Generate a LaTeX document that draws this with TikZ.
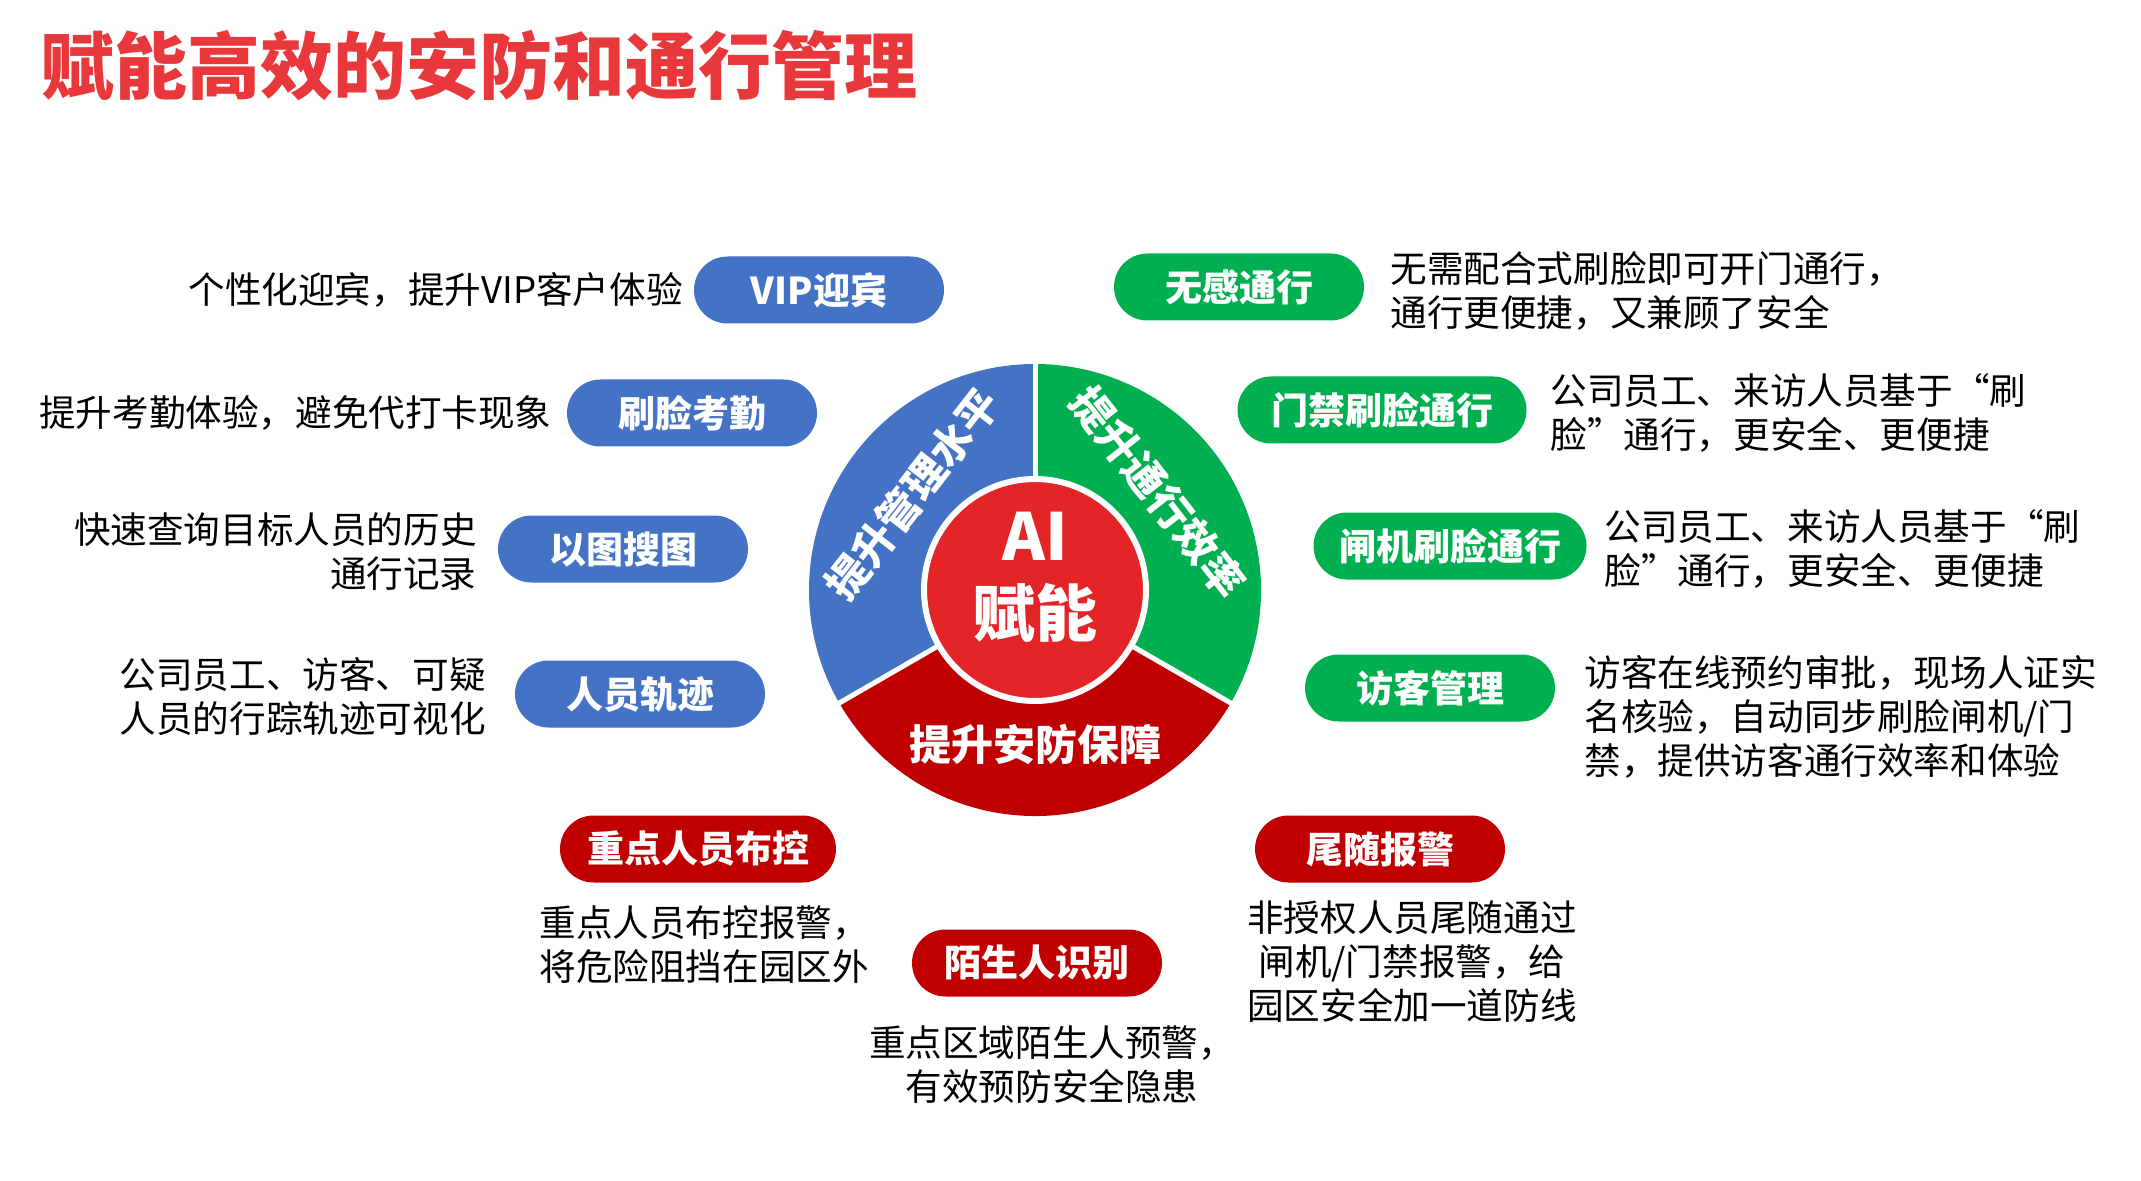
\documentclass[tikz,border=0pt]{standalone}
\usepackage{fontspec}
\setmainfont{Noto Sans CJK SC}
\usepackage{tikz}
\usetikzlibrary{shapes.misc}
\definecolor{secBlue}{HTML}{4472C4}
\definecolor{secGreen}{HTML}{00B050}
\definecolor{secRed}{HTML}{C00000}
\definecolor{secCore}{HTML}{E42528}
\definecolor{secTitle}{HTML}{E8383B}

\begin{document}
\begin{tikzpicture}[x=0.5pt,y=0.5pt,
    pill/.style={rounded rectangle,minimum height=33.5pt,minimum width=125pt,
                 inner sep=0pt,text=white,font=\fontsize{18.5}{22}\selectfont\bfseries},
    bluepill/.style={pill,fill=secBlue},
    greenpill/.style={pill,fill=secGreen},
    redpill/.style={pill,fill=secRed},
    desc/.style={inner sep=0pt,font=\fontsize{18.3}{22}\selectfont},
    ringtext/.style={inner sep=0pt,text=white,font=\fontsize{21}{24}\selectfont\bfseries}]

  \fill[white] (0,0) rectangle (2141,1180);
  \useasboundingbox (0,0) rectangle (2141,1180);

  \node[anchor=west,inner sep=0pt,text=secTitle,font=\fontsize{36.5}{40}\selectfont\bfseries]
    (title) at (41,1114) {赋能高效的安防和通行管理};

  % ring
  \coordinate (hub) at (1035,590);
  \fill[secBlue] (hub) -- ++(90:226) arc[start angle=90,end angle=210,radius=226] -- cycle;
  \fill[secRed] (hub) -- ++(210:226) arc[start angle=210,end angle=330,radius=226] -- cycle;
  \fill[secGreen] (hub) -- ++(330:226) arc[start angle=330,end angle=450,radius=226] -- cycle;
  \foreach \a in {90,210,330}
    \draw[white,line width=2.5pt] (hub) -- ++(\a:230);
  \filldraw[fill=secCore,draw=white,line width=3pt] (hub) circle[radius=111];

  \node[inner sep=0pt,text=white,font=\fontsize{32.5}{36}\selectfont\bfseries] (ai) at (1035,644) {AI};
  \node[inner sep=0pt,text=white,font=\fontsize{31}{36}\selectfont\bfseries] (fuNeng) at (1035,567) {赋能};

  \node[ringtext,rotate=52] (lvMgmt) at (912,686) {提升管理水平};
  \node[ringtext,rotate=-52] (lvPass) at (1158,688) {提升通行效率};
  \node[ringtext] (lvSafe) at (1035,436) {提升安防保障};

  % left
  \node[bluepill] (vip) at (819,890) {VIP迎宾};
  \node[bluepill] (kaoqin) at (692,767) {刷脸考勤};
  \node[bluepill] (soutu) at (623,631) {以图搜图};
  \node[bluepill] (guiji) at (640,486) {人员轨迹};

  \node[desc,anchor=east] (vipTxt) at (683,890) {个性化迎宾，提升VIP客户体验};
  \node[desc,anchor=east] (kaoqinTxt) at (552,767) {提升考勤体验，避免代打卡现象};
  \node[desc,anchor=east,align=right] (soutuTxt) at (477,628) {快速查询目标人员的历史\\通行记录};
  \node[desc,anchor=east,align=right] (guijiTxt) at (486,484) {公司员工、访客、可疑\\人员的行踪轨迹可视化};

  % right
  \node[greenpill] (wugan) at (1239,893) {无感通行};
  \node[greenpill,minimum width=144.5pt] (menjin) at (1382,770) {门禁刷脸通行};
  \node[greenpill,minimum width=136.5pt] (zhaji) at (1450,634) {闸机刷脸通行};
  \node[greenpill] (fangke) at (1430,492) {访客管理};

  \node[desc,anchor=west,align=left] (wuganTxt) at (1390,889) {无需配合式刷脸即可开门通行，\\通行更便捷，又兼顾了安全};
  \node[desc,anchor=west,align=left] (menjinTxt) at (1550,767) {公司员工、来访人员基于“刷\\脸”通行，更安全、更便捷};
  \node[desc,anchor=west,align=left] (zhajiTxt) at (1604,631) {公司员工、来访人员基于“刷\\脸”通行，更安全、更便捷};
  \node[desc,anchor=west,align=left] (fangkeTxt) at (1584,463) {访客在线预约审批，现场人证实\\名核验，自动同步刷脸闸机/门\\禁，提供访客通行效率和体验};

  % bottom
  \node[redpill,minimum width=138pt] (bukong) at (698,331) {重点人员布控};
  \node[redpill] (moSheng) at (1037,217) {陌生人识别};
  \node[redpill] (weisui) at (1380,331) {尾随报警};

  \node[desc,anchor=west,align=left] (bukongTxt) at (539,235) {重点人员布控报警，\\将危险阻挡在园区外};
  \node[desc,align=center] (moShengTxt) at (1052,115) {重点区域陌生人预警，\\有效预防安全隐患};
  \node[desc,align=center] (weisuiTxt) at (1412,218) {非授权人员尾随通过\\闸机/门禁报警，给\\园区安全加一道防线};
\end{tikzpicture}
\end{document}
